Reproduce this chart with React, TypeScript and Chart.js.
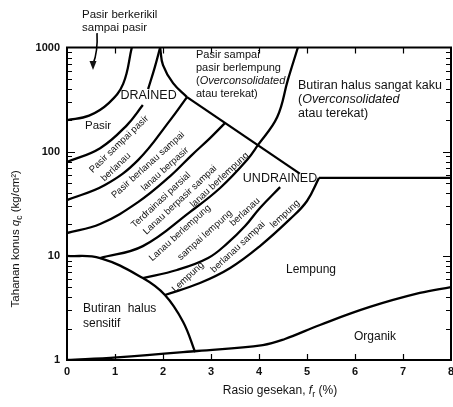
import React, { useEffect, useRef } from 'react';
import { Chart, registerables } from 'chart.js';

Chart.register(...registerables);

const FONT = '"Liberation Sans", Arial, Helvetica, sans-serif';

// Axis ticks
const frTicks = [0, 1, 2, 3, 4, 5, 6, 7, 8];
const qcTickLabels = [1, 10, 100, 1000];

// Boundary curves: friction ratio fr (%) vs cone resistance qc (kg/cm2)
const gravelSandFr = [0, 0.46, 0.87, 1.17, 1.35];
const gravelSandQc = [201, 222, 293, 448, 1000];

const sandLowerFr = [0, 0.69, 1.25, 1.58];
const sandLowerQc = [79.5, 108, 180, 280];
const sandUpperFr = [1.69, 1.83, 1.94];
const sandUpperQc = [399, 649, 1000];

const cuspFr = [1.94, 2.0, 2.21, 2.5];
const cuspQc = [1000, 678, 455, 334];

const drainedFr = [2.5, 4.85];
const drainedQc = [334, 61.6];

const undrainedFr = [5.25, 8];
const undrainedQc = [56, 56];

const siltySandFr = [0, 0.79, 1.48, 2.15, 2.5];
const siltySandQc = [34.3, 47.8, 83, 201, 334];

const sandySiltFr = [0, 0.69, 1.48, 2.15, 2.6, 2.98, 3.29];
const sandySiltQc = [16.55, 20.2, 32.8, 58.3, 92.8, 135, 188];

const clayeySiltFr = [0.69, 1.58, 2.56, 3.19, 3.75, 3.98, 4.38, 4.6, 4.81];
const clayeySiltQc = [9.52, 12.4, 26.3, 44.8, 83.1, 116, 215, 486, 1000];

const siltyClayFr = [1.58, 2.29, 2.94, 3.35, 3.71, 4.02, 4.44];
const siltyClayQc = [6.12, 7.31, 9.53, 13.3, 19.3, 28.8, 45.7];

const clayFr = [2.04, 2.77, 3.4, 4.02, 4.65, 5.0, 5.25];
const clayQc = [4.21, 5.48, 7.64, 12.4, 22.6, 33.6, 56];

const sensitiveFr = [0, 0.69, 1.58, 2.04, 2.42, 2.67];
const sensitiveQc = [10, 9.52, 6.12, 4.21, 2.32, 1.19];

const organicFr = [0, 1.04, 2.71, 4.08, 4.54, 5.27, 6.31, 7.35, 8];
const organicQc = [1, 1.06, 1.22, 1.39, 1.59, 2.17, 3.23, 4.4, 5.02];

// Zone label texts
type Seg = [string, 'n' | 'i' | 'sub' | 'b'];
const blockLabels: { lines: (string | Seg[])[]; fr: number; qc: number; size: number; gap: number; align: 'left' | 'center' }[] = [
  { lines: ['Pasir berkerikil', 'sampai pasir'], fr: 0.3125, qc: 2046, size: 11.5, gap: 13, align: 'left' },
  { lines: ['Pasir sampai', 'pasir berlempung', [['(', 'n'], ['Overconsolidated', 'i']], 'atau terekat)'], fr: 2.6875, qc: 845, size: 11, gap: 12.8, align: 'left' },
  { lines: ['Butiran halus sangat kaku', [['(', 'n'], ['Overconsolidated', 'i']], 'atau terekat)'], fr: 4.8125, qc: 436, size: 12.5, gap: 14, align: 'left' },
  { lines: ['Pasir'], fr: 0.375, qc: 178, size: 11.5, gap: 0, align: 'left' },
  { lines: ['DRAINED'], fr: 1.70, qc: 349, size: 12.5, gap: 0, align: 'center' },
  { lines: ['UNDRAINED'], fr: 4.4375, qc: 55.8, size: 12.5, gap: 0, align: 'center' },
  { lines: ['Butiran  halus', 'sensitif'], fr: 0.333, qc: 3.09, size: 12, gap: 14.5, align: 'left' },
  { lines: ['Lempung'], fr: 5.083, qc: 7.31, size: 12, gap: 0, align: 'center' },
  { lines: ['Organik'], fr: 6.417, qc: 1.66, size: 12, gap: 0, align: 'center' },
];

const rotatedLabels = [
  { text: 'Pasir sampai pasir', fr: 1.083, qc: 118, angle: -44 },
  { text: 'berlanau', fr: 1.021, qc: 71.2, angle: -44 },
  { text: 'Pasir berlanau sampai', fr: 1.6875, qc: 74.4, angle: -42 },
  { text: 'lanau berpasir', fr: 2.042, qc: 68.1, angle: -42 },
  { text: 'Terdrainasi parsial', fr: 1.958, qc: 34.3, angle: -43 },
  { text: 'Lanau berpasir sampai', fr: 2.354, qc: 34.3, angle: -43 },
  { text: 'lanau berlempung', fr: 3.177, qc: 53.5, angle: -43 },
  { text: 'Lanau berlempung', fr: 2.354, qc: 16.55, angle: -42 },
  { text: 'sampai lempung', fr: 2.875, qc: 15.8, angle: -42 },
  { text: 'berlanau', fr: 3.708, qc: 26.3, angle: -43 },
  { text: 'Lempung', fr: 2.521, qc: 6.26, angle: -43 },
  { text: 'berlanau sampai', fr: 3.5625, qc: 12.15, angle: -43 },
  { text: 'lempung', fr: 4.542, qc: 25.2, angle: -43 },
];

const arrowStart = { fr: 0.625, qc: 1375 };
const arrowTip = { fr: 0.542, qc: 607 };

const curveDefs: [number[], number[], number][] = [
  [gravelSandFr, gravelSandQc, 0.4],
  [sandLowerFr, sandLowerQc, 0.4],
  [sandUpperFr, sandUpperQc, 0.4],
  [cuspFr, cuspQc, 0.4],
  [drainedFr, drainedQc, 0],
  [undrainedFr, undrainedQc, 0],
  [siltySandFr, siltySandQc, 0.4],
  [sandySiltFr, sandySiltQc, 0.4],
  [clayeySiltFr, clayeySiltQc, 0.4],
  [siltyClayFr, siltyClayQc, 0.4],
  [clayFr, clayQc, 0.4],
  [sensitiveFr, sensitiveQc, 0.4],
  [organicFr, organicQc, 0.4],
];

function drawSegs(ctx: CanvasRenderingContext2D, segs: Seg[], x: number, y: number, size: number, align: 'left' | 'center') {
  const fontFor = (s: string) =>
    s === 'i' ? `italic ${size}px ${FONT}` : s === 'b' ? `bold ${size}px ${FONT}` : s === 'sub' ? `${size * 0.75}px ${FONT}` : `${size}px ${FONT}`;
  let total = 0;
  const widths = segs.map(([t, s]) => {
    ctx.font = fontFor(s);
    const w = ctx.measureText(t).width;
    total += w;
    return w;
  });
  let cx = align === 'center' ? x - total / 2 : x;
  ctx.textAlign = 'left';
  ctx.textBaseline = 'middle';
  segs.forEach(([t, s], i) => {
    ctx.font = fontFor(s);
    ctx.fillText(t, cx, s === 'sub' ? y + size * 0.3 : y);
    cx += widths[i];
  });
}

const decor = {
  id: 'decor',
  afterDraw(chart: any) {
    const { ctx, chartArea: a } = chart;
    const xs = chart.scales.x;
    const ys = chart.scales.y;
    const X = (v: number) => xs.getPixelForValue(v);
    const Y = (v: number) => ys.getPixelForValue(v);
    ctx.save();
    ctx.strokeStyle = '#000';
    ctx.fillStyle = '#111';

    // inner tick marks
    ctx.lineWidth = 1.2;
    ctx.beginPath();
    for (let d = 1; d < 1000; d *= 10) {
      for (let m = 1; m < 10; m++) {
        const v = d * m;
        if (v === 1) continue;
        const y = Math.round(Y(v)) + 0.5;
        const len = m === 1 ? 8 : 5;
        ctx.moveTo(a.left, y);
        ctx.lineTo(a.left + len, y);
        ctx.moveTo(a.right, y);
        ctx.lineTo(a.right - len, y);
      }
    }
    frTicks.forEach((f) => {
      if (f <= 0 || f >= 8) return;
      const x = Math.round(X(f)) + 0.5;
      ctx.moveTo(x, a.bottom);
      ctx.lineTo(x, a.bottom - 6);
      ctx.moveTo(x, a.top);
      ctx.lineTo(x, a.top + 6);
    });
    ctx.stroke();

    // frame
    ctx.lineWidth = 2;
    ctx.strokeRect(a.left, a.top, a.right - a.left, a.bottom - a.top);

    // arrow
    const x0 = X(arrowStart.fr), y0 = Y(arrowStart.qc);
    const x1 = X(arrowTip.fr), y1 = Y(arrowTip.qc);
    ctx.lineWidth = 1.6;
    ctx.beginPath();
    ctx.moveTo(x0, y0);
    ctx.quadraticCurveTo(x0 + 1, (y0 + y1) / 2, x1, y1 - 6);
    ctx.stroke();
    ctx.beginPath();
    ctx.moveTo(x1, y1);
    ctx.lineTo(x1 - 3.5, y1 - 9);
    ctx.lineTo(x1 + 3.5, y1 - 9);
    ctx.closePath();
    ctx.fill();

    // block labels
    blockLabels.forEach((b) => {
      const bx = X(b.fr);
      const by = Y(b.qc);
      b.lines.forEach((ln, i) => {
        const segs: Seg[] = typeof ln === 'string' ? [[ln, 'n']] : ln;
        drawSegs(ctx, segs, bx, by + i * b.gap, b.size, b.align);
      });
    });

    // rotated labels
    ctx.font = `9.5px ${FONT}`;
    ctx.textAlign = 'center';
    ctx.textBaseline = 'middle';
    rotatedLabels.forEach((r) => {
      ctx.save();
      ctx.translate(X(r.fr), Y(r.qc));
      ctx.rotate((r.angle * Math.PI) / 180);
      ctx.fillText(r.text, 0, 0);
      ctx.restore();
    });

    // axis titles
    ctx.save();
    ctx.translate(16, (a.top + a.bottom) / 2 + 35);
    ctx.rotate(-Math.PI / 2);
    drawSegs(ctx, [['Tahanan konus ', 'n'], ['q', 'i'], ['c', 'sub'], [' (kg/cm²)', 'n']], 0, 0, 11.5, 'center');
    ctx.restore();
    drawSegs(ctx, [['Rasio gesekan, ', 'n'], ['f', 'i'], ['r', 'sub'], [' (%)', 'n']], (a.left + a.right) / 2 + 21, 391, 12, 'center');

    ctx.restore();
  },
};

export default function App() {
  const ref = useRef<HTMLCanvasElement>(null);
  useEffect(() => {
    const datasets = curveDefs.map(([fr, qc, tension]) => ({
      data: fr.map((f, i) => ({ x: f, y: qc[i] })),
      showLine: true,
      borderColor: '#000',
      borderWidth: 2.3,
      pointRadius: 0,
      tension,
      fill: false,
    }));
    const chart = new Chart(ref.current as HTMLCanvasElement, {
      type: 'scatter',
      data: { datasets },
      options: {
        animation: false,
        responsive: false,
        maintainAspectRatio: false,
        layout: { padding: { top: 47.5, right: 2, left: 0, bottom: 0 } },
        plugins: { legend: { display: false }, tooltip: { enabled: false } },
        scales: {
          x: {
            type: 'linear',
            min: 0,
            max: 8,
            ticks: {
              stepSize: 1,
              maxRotation: 0,
              autoSkip: false,
              padding: 5,
              color: '#111',
              font: { family: FONT, size: 11, weight: 'bold' },
            },
            grid: { display: false, drawTicks: false },
            border: { display: false },
            afterFit: (s: any) => {
              s.height = 47;
              s.paddingLeft = 0;
              s.paddingRight = 0;
            },
          },
          y: {
            type: 'logarithmic',
            min: 1,
            max: 1000,
            ticks: {
              autoSkip: false,
              padding: 7,
              color: '#111',
              font: { family: FONT, size: 11, weight: 'bold' },
              callback: (v: any) => (qcTickLabels.includes(Number(v)) ? String(v) : ''),
            },
            grid: { display: false, drawTicks: false },
            border: { display: false },
            afterFit: (s: any) => {
              s.width = 67;
              s.paddingTop = 0;
              s.paddingBottom = 0;
            },
          },
        },
      } as any,
      plugins: [decor],
    });
    return () => chart.destroy();
  }, []);
  return (
    <div style={{ position: 'absolute', left: 0, top: 0, width: 453, height: 407, background: '#fff' }}>
      <canvas ref={ref} width={453} height={407} style={{ display: 'block' }} />
    </div>
  );
}
